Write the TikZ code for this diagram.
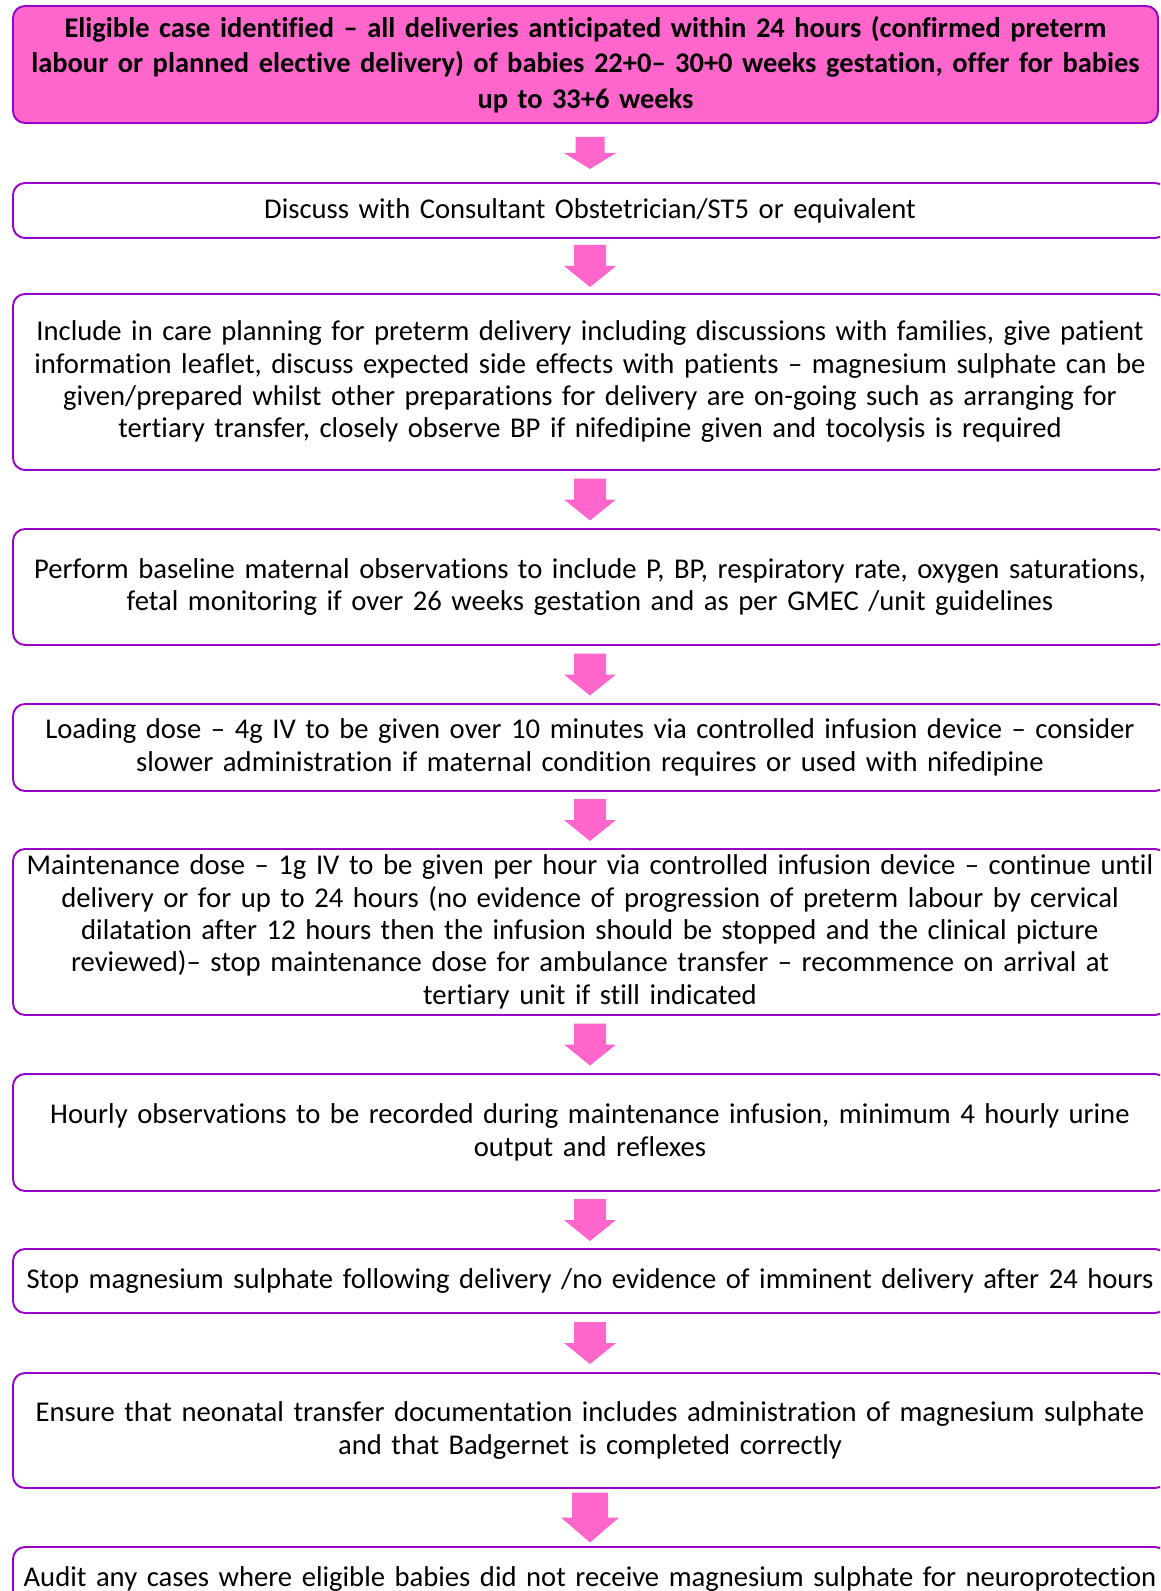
\documentclass[tikz,border=0pt]{standalone}
\usepackage{fontspec}
\setmainfont{Carlito}[Ligatures=NoCommon]
\usepackage{tikz}
\usetikzlibrary{calc,positioning}
\definecolor{flowpink}{HTML}{FF66CC}
\definecolor{flowpurple}{HTML}{9900CC}
\tikzset{
  stepbox/.style={
    draw=flowpurple,
    rectangle,
    rounded corners=0.24cm,
    line width=1.1pt,
    fill=white,
    text width=22.9cm,
    align=center,
    inner sep=0pt,
    minimum width=23.08cm,
    font=\fontsize{16.3}{18.4}\selectfont,
  },
  topbox/.style={
    stepbox,
    fill=flowpink,
    minimum width=22.9cm,
    font=\fontsize{16.2}{20.1}\selectfont\bfseries,
  },
  flowarrow/.style={fill=flowpink, draw=none},
}
\begin{document}
\begin{tikzpicture}
  \useasboundingbox (0,0) rectangle (23.2,-31.82);
  \clip (0,0) rectangle (23.2,-31.82);
  % steps of the pathway
  \node[topbox, minimum height=2.34cm] (b1) at (11.71,-1.29) {Eligible case identified -- all deliveries anticipated within 24 hours (confirmed preterm\\ labour or planned elective delivery) of babies 22+0-- 30+0 weeks gestation, offer for babies\\ up to 33+6 weeks};
  \node[stepbox, minimum height=1.10cm] (b2) at (11.8,-4.21) {Discuss with Consultant Obstetrician/ST5 or equivalent};
  \node[stepbox, minimum height=3.52cm] (b3) at (11.8,-7.64) {Include in care planning for preterm delivery including discussions with families, give patient\\ information leaflet, discuss expected side effects with patients -- magnesium sulphate can be\\ given/prepared whilst other preparations for delivery are on-going such as arranging for\\ tertiary transfer, closely observe BP if nifedipine given and tocolysis is required};
  \node[stepbox, minimum height=2.32cm] (b4) at (11.8,-11.74) {Perform baseline maternal observations to include P, BP, respiratory rate, oxygen saturations,\\ fetal monitoring if over 26 weeks gestation and as per GMEC /unit guidelines};
  \node[stepbox, minimum height=1.74cm] (b5) at (11.8,-14.95) {Loading dose -- 4g IV to be given over 10 minutes via controlled infusion device -- consider\\ slower administration if maternal condition requires or used with nifedipine};
  \node[stepbox, minimum height=3.32cm] (b6) at (11.8,-18.64) {Maintenance dose -- 1g IV to be given per hour via controlled infusion device -- continue until\\ delivery or for up to 24 hours (no evidence of progression of preterm labour by cervical\\ dilatation after 12 hours then the infusion should be stopped and the clinical picture\\ reviewed)-- stop maintenance dose for ambulance transfer -- recommence on arrival at\\ tertiary unit if still indicated};
  \node[stepbox, minimum height=2.34cm] (b7) at (11.8,-22.65) {Hourly observations to be recorded during maintenance infusion, minimum 4 hourly urine\\ output and reflexes};
  \node[stepbox, minimum height=1.28cm] (b8) at (11.8,-25.62) {Stop magnesium sulphate following delivery /no evidence of imminent delivery after 24 hours};
  \node[stepbox, minimum height=2.30cm] (b9) at (11.8,-28.61) {Ensure that neonatal transfer documentation includes administration of magnesium sulphate\\ and that Badgernet is completed correctly};
  \node[stepbox, minimum height=1.28cm] (b10) at (11.8,-31.58) {Audit any cases where eligible babies did not receive magnesium sulphate for neuroprotection};
  % block arrows between steps: from/to/shaft half width/head half width/half length
  \foreach \a/\b/\sw/\hw/\hl in {1/2/0.29/0.52/0.32, 2/3/0.32/0.52/0.42, 3/4/0.32/0.52/0.42,
      4/5/0.32/0.52/0.42, 5/6/0.32/0.52/0.42, 6/7/0.32/0.52/0.42, 7/8/0.32/0.52/0.42,
      8/9/0.32/0.52/0.42, 9/10/0.36/0.58/0.5} {
    \coordinate (m\a) at ($(b\a.south -| b\b.north)!0.5!(b\b.north)$);
    \fill[flowarrow] ([shift={(-\sw,\hl)}]m\a) -- ++(2*\sw,0) -- ++(0,-\hl) -- ++(\hw-\sw,0)
      -- ([yshift=-\hl cm]m\a) -- ++(-\hw,\hl) -- ++(\hw-\sw,0) -- cycle;
  }
\end{tikzpicture}
\end{document}
